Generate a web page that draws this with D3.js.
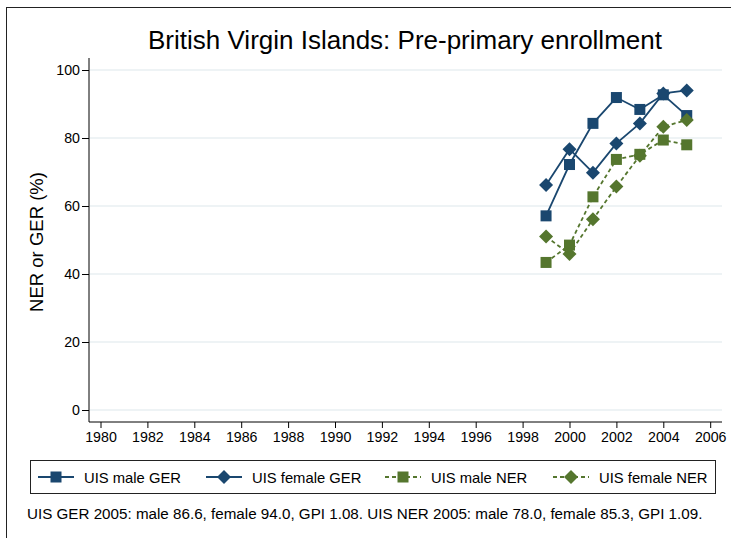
<!DOCTYPE html>
<html>
<head>
<meta charset="utf-8">
<script src="https://cdn.jsdelivr.net/npm/d3@7"></script>
<style>
  html, body { margin: 0; padding: 0; background: #fff; }
  svg { display: block; font-family: "Liberation Sans", Arial, sans-serif; }
</style>
</head>
<body>
<div id="chart"></div>
<script>
// 入学率折线图: 男/女 GER 实线, NER 虚线
const years = [1999, 2000, 2001, 2002, 2003, 2004, 2005];
const maleGER = [57.1, 72.2, 84.3, 91.9, 88.4, 92.7, 86.6];
const femaleGER = [66.2, 76.7, 69.8, 78.4, 84.3, 93.1, 94.0];
const maleNER = [43.4, 48.5, 62.7, 73.7, 75.2, 79.4, 78.0];
const femaleNER = [51.0, 45.9, 56.1, 65.7, 74.8, 83.3, 85.3];
const xTicks = d3.range(1980, 2007, 2);
const yTicks = [0, 20, 40, 60, 80, 100];
const seriesNames = ["UIS male GER", "UIS female GER", "UIS male NER", "UIS female NER"];
const footnote = "UIS GER 2005: male 86.6, female 94.0, GPI 1.08. UIS NER 2005: male 78.0, female 85.3, GPI 1.09.";

const W = 731, H = 538;
const blue = "#1a476f", green = "#55762e", grid = "#e8eff2";
const font = "Liberation Sans, Arial, sans-serif";

const series = [
  { name: seriesNames[0], vals: maleGER, color: blue, dash: null, shape: "square" },
  { name: seriesNames[1], vals: femaleGER, color: blue, dash: null, shape: "diamond" },
  { name: seriesNames[2], vals: maleNER, color: green, dash: "4,3", shape: "square" },
  { name: seriesNames[3], vals: femaleNER, color: green, dash: "4,3", shape: "diamond" },
];

const svg = d3.select("#chart").append("svg").attr("width", W).attr("height", H);

// 外框
svg.append("rect").attr("x", 6.5).attr("y", 7.5).attr("width", W + 10).attr("height", H + 10)
  .attr("fill", "none").attr("stroke", "#222").attr("stroke-width", 1);

const x = d3.scaleLinear().domain([1980, 2006]).range([100.5, 710.2]);
const y = d3.scaleLinear().domain([0, 100]).range([410, 70]);
const plotL = 89, plotR = 722, plotT = 58, plotB = 422;

// 网格
svg.append("g").selectAll("line").data(yTicks).join("line")
  .attr("x1", plotL + 1).attr("x2", plotR)
  .attr("y1", d => y(d)).attr("y2", d => y(d))
  .attr("stroke", grid).attr("stroke-width", 1.5);

// 轴
const gy = svg.append("g").attr("transform", `translate(${plotL},0)`)
  .call(d3.axisLeft(y).tickValues(yTicks).tickSize(7).tickPadding(2));
gy.select(".domain").remove();
const gx = svg.append("g").attr("transform", `translate(0,${plotB})`)
  .call(d3.axisBottom(x).tickValues(xTicks).tickFormat(d3.format("d")).tickSize(6).tickPadding(4));
gx.select(".domain").remove();
[gx, gy].forEach(g => {
  g.attr("font-family", font);
  g.selectAll("text").attr("font-size", 14.2).attr("fill", "#000");
  g.selectAll("line").attr("stroke", "#000");
});
svg.append("line").attr("x1", plotL).attr("x2", plotL).attr("y1", plotT).attr("y2", plotB).attr("stroke", "#000");
svg.append("line").attr("x1", plotL).attr("x2", plotR).attr("y1", plotB).attr("y2", plotB).attr("stroke", "#000");

// 标题
svg.append("text").attr("x", 405).attr("y", 49).attr("text-anchor", "middle")
  .attr("font-size", 26).text("British Virgin Islands: Pre-primary enrollment");
svg.append("text").attr("transform", "translate(43,242) rotate(-90)").attr("text-anchor", "middle")
  .attr("font-size", 18.5).text("NER or GER (%)");

function marker(g, shape, color, cx, cy) {
  if (shape === "square") {
    g.append("rect").attr("x", cx - 5.5).attr("y", cy - 5.5).attr("width", 11).attr("height", 11).attr("fill", color);
  } else {
    const r = 7;
    g.append("path").attr("d", `M${cx},${cy - r}L${cx + r},${cy}L${cx},${cy + r}L${cx - r},${cy}Z`).attr("fill", color);
  }
}

const line = d3.line().x(d => x(d[0])).y(d => y(d[1]));
series.forEach(s => {
  const pts = years.map((yr, i) => [yr, s.vals[i]]);
  svg.append("path").datum(pts).attr("d", line).attr("fill", "none")
    .attr("stroke", s.color).attr("stroke-width", 1.8).attr("stroke-dasharray", s.dash);
  const g = svg.append("g");
  pts.forEach(p => marker(g, s.shape, s.color, x(p[0]), y(p[1])));
});

// 图例
svg.append("rect").attr("x", 30.5).attr("y", 460.5).attr("width", 685).attr("height", 33)
  .attr("fill", "#fff").attr("stroke", "#222");
const legX = [38, 206, 385, 553];
series.forEach((s, i) => {
  const g = svg.append("g");
  const lx = legX[i], ly = 477;
  g.append("line").attr("x1", lx).attr("x2", lx + 36).attr("y1", ly).attr("y2", ly)
    .attr("stroke", s.color).attr("stroke-width", 1.8).attr("stroke-dasharray", s.dash);
  marker(g, s.shape, s.color, lx + 18, ly);
  g.append("text").attr("x", lx + 46).attr("y", ly + 5.5).attr("font-size", 14.8).text(s.name);
});

svg.append("text").attr("x", 27).attr("y", 519).attr("font-size", 15.2).text(footnote);
</script>
</body>
</html>
